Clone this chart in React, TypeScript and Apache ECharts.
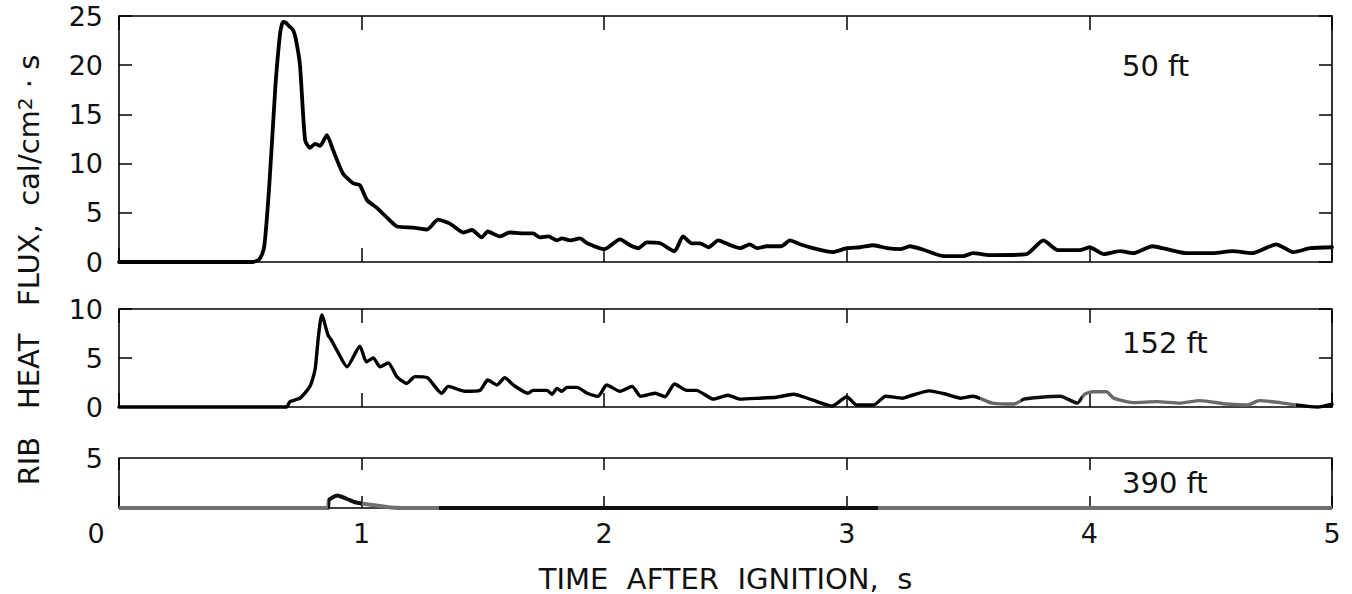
import React, { useEffect, useRef } from 'react';
import * as echarts from 'echarts';

// ---- Data (time after ignition, s ; rib heat flux, cal/cm^2·s) ----
const T_50 = [0, 0.55, 0.575, 0.59, 0.6, 0.62, 0.645, 0.655, 0.665, 0.676, 0.688, 0.7, 0.717, 0.73, 0.746, 0.767, 0.787, 0.808, 0.829, 0.857, 0.882, 0.923, 0.965, 0.993, 1.022, 1.063, 1.105, 1.146, 1.212, 1.27, 1.315, 1.364, 1.42, 1.455, 1.495, 1.52, 1.57, 1.61, 1.665, 1.707, 1.735, 1.77, 1.805, 1.826, 1.86, 1.9, 1.93, 2.0, 2.065, 2.107, 2.14, 2.176, 2.23, 2.29, 2.325, 2.36, 2.395, 2.43, 2.47, 2.52, 2.56, 2.6, 2.63, 2.67, 2.73, 2.766, 2.807, 2.877, 2.94, 3.0, 3.055, 3.11, 3.166, 3.22, 3.26, 3.31, 3.4, 3.48, 3.52, 3.59, 3.74, 3.81, 3.87, 3.96, 4.0, 4.06, 4.126, 4.18, 4.26, 4.32, 4.4, 4.51, 4.59, 4.67, 4.77, 4.84, 4.91, 5.0];
const F_50 = [0, 0, 0.2, 0.8, 1.8, 8, 18, 21, 23.4, 24.4, 24.3, 24.0, 23.6, 22.5, 20, 12.4, 11.6, 12, 11.8, 12.9, 11.4, 9, 8, 7.8, 6.3, 5.5, 4.5, 3.6, 3.5, 3.3, 4.3, 3.9, 3.0, 3.25, 2.5, 3.1, 2.6, 3.0, 2.9, 2.9, 2.5, 2.6, 2.2, 2.4, 2.2, 2.4, 1.9, 1.3, 2.3, 1.7, 1.4, 2.0, 1.9, 1.1, 2.6, 1.9, 1.9, 1.5, 2.2, 1.7, 1.4, 1.8, 1.4, 1.6, 1.6, 2.2, 1.8, 1.3, 1.0, 1.4, 1.5, 1.7, 1.4, 1.3, 1.6, 1.3, 0.6, 0.6, 0.9, 0.7, 0.8, 2.2, 1.2, 1.2, 1.5, 0.8, 1.1, 0.9, 1.6, 1.3, 0.9, 0.9, 1.1, 0.9, 1.8, 1.0, 1.4, 1.5];

const T_152 = [0, 0.69, 0.705, 0.746, 0.787, 0.808, 0.822, 0.836, 0.862, 0.876, 0.898, 0.94, 0.993, 1.02, 1.048, 1.076, 1.11, 1.145, 1.186, 1.22, 1.27, 1.33, 1.357, 1.426, 1.488, 1.52, 1.558, 1.59, 1.625, 1.686, 1.707, 1.764, 1.785, 1.805, 1.826, 1.846, 1.888, 1.93, 1.975, 2.01, 2.065, 2.115, 2.15, 2.21, 2.25, 2.29, 2.34, 2.38, 2.45, 2.51, 2.56, 2.64, 2.71, 2.78, 2.86, 2.94, 3.0, 3.04, 3.11, 3.16, 3.23, 3.27, 3.34, 3.41, 3.47, 3.52, 3.6, 3.69, 3.73, 3.8, 3.88, 3.95, 3.98, 4.015, 4.07, 4.1, 4.18, 4.28, 4.37, 4.455, 4.567, 4.65, 4.7, 4.785, 4.855, 4.94, 5.0];
const F_152 = [0, 0, 0.55, 0.9, 2.1, 3.8, 7.2, 9.4, 7.3, 6.8, 5.8, 4.1, 6.2, 4.6, 5.0, 4.1, 4.5, 3.1, 2.4, 3.1, 3.0, 1.4, 2.1, 1.6, 1.7, 2.75, 2.25, 3.0, 2.25, 1.4, 1.7, 1.7, 1.3, 1.9, 1.6, 2.0, 2.0, 1.4, 1.1, 2.25, 1.6, 2.1, 1.1, 1.4, 1.05, 2.35, 1.7, 1.7, 0.8, 1.2, 0.8, 0.9, 1.0, 1.3, 0.7, 0.1, 1.05, 0.2, 0.2, 1.1, 0.9, 1.2, 1.65, 1.3, 0.9, 1.1, 0.4, 0.3, 0.8, 1.0, 1.1, 0.4, 1.3, 1.55, 1.55, 0.9, 0.45, 0.55, 0.4, 0.65, 0.3, 0.2, 0.65, 0.45, 0.2, 0, 0.3];

const T_390 = [0, 0.86, 0.865, 0.9, 0.94, 0.97, 1.0, 1.06, 1.12, 1.2, 5.0];
const F_390 = [0, 0, 0.8, 1.25, 0.9, 0.6, 0.45, 0.25, 0.05, 0, 0];

const PANEL_LABELS = ['50 ft', '152 ft', '390 ft'];
const Y_MAX = [25, 10, 5];
const X_TITLE = 'TIME  AFTER  IGNITION,  s';
const Y_TITLE = 'RIB   HEAT   FLUX,  cal/cm{sup|2} · s';

const FONT = 'DejaVu Sans';
const INK = '#111';

export default function App() {
  const ref = useRef<HTMLDivElement>(null);

  useEffect(() => {
    const chart = echarts.init(ref.current!, null, { renderer: 'svg' });

    const H = 594;
    const gridBoxes = [
      { top: 16, bottom: H - 262 },
      { top: 309, bottom: H - 407 },
      { top: 458, bottom: H - 508 },
    ];
    const grid = gridBoxes.map((g) => ({
      left: 119,
      right: 20,
      top: g.top,
      bottom: g.bottom,
      show: true,
      borderColor: '#000',
      borderWidth: 1.6,
      backgroundColor: 'transparent',
    }));

    const xTick = [14, 14, 12];
    const yTick = [13, 13, 12];
    const xAxis: any[] = [];
    const yAxis: any[] = [];
    for (let i = 0; i < 3; i++) {
      for (const pos of ['bottom', 'top']) {
        const isMain = i === 2 && pos === 'bottom';
        xAxis.push({
          type: 'value',
          gridIndex: i,
          position: pos,
          min: 0,
          max: 5,
          interval: 1,
          axisLine: { show: false, onZero: false },
          splitLine: { show: false },
          axisTick: { show: true, inside: true, length: xTick[i], lineStyle: { color: '#000', width: 1.5 } },
          axisLabel: {
            show: isMain,
            fontFamily: FONT,
            fontSize: 27,
            color: INK,
            margin: 12,
            formatter: (v: number) => (v === 0 ? '{z|0}' : String(v)),
            rich: { z: { fontFamily: FONT, fontSize: 27, color: INK, padding: [0, 46, 0, 0] } },
          },
          name: isMain ? X_TITLE : '',
          nameLocation: 'middle',
          nameGap: 56,
          nameTextStyle: { fontFamily: FONT, fontSize: 29, color: INK },
        });
      }
      for (const pos of ['left', 'right']) {
        const isLeft = pos === 'left';
        yAxis.push({
          type: 'value',
          gridIndex: i,
          position: pos,
          min: 0,
          max: Y_MAX[i],
          interval: 5,
          axisLine: { show: false, onZero: false },
          splitLine: { show: false },
          axisTick: { show: i < 2, inside: true, length: yTick[i], lineStyle: { color: '#000', width: 1.5 } },
          axisLabel: {
            show: isLeft,
            fontFamily: FONT,
            fontSize: 27,
            color: INK,
            margin: 16,
            formatter: (v: number) => (i === 2 && v === 0 ? '' : String(v)),
          },
        });
      }
    }

    const mk = (ts: number[], fs: number[]) => ts.map((t, k) => [t, fs[k]]);

    const series: any[] = [
      {
        type: 'line', xAxisIndex: 0, yAxisIndex: 0, data: mk(T_50, F_50),
        symbol: 'none', smooth: 0.2, lineStyle: { color: '#000', width: 3.8, join: 'round', cap: 'round' }, clip: false,
      },
      {
        type: 'line', xAxisIndex: 2, yAxisIndex: 2, data: mk(T_152, F_152),
        symbol: 'none', smooth: 0.2, lineStyle: { width: 3.4, join: 'round', cap: 'round' }, clip: false,
      },
      {
        type: 'line', xAxisIndex: 4, yAxisIndex: 4, data: mk(T_390, F_390),
        symbol: 'none', smooth: 0.2, lineStyle: { width: 4, join: 'round' }, clip: false,
      },
    ];

    const gfx: any[] = [66, 343, 483].map((y, i) => ({
      type: 'text',
      x: 1122,
      y,
      style: {
        text: PANEL_LABELS[i],
        fontFamily: FONT,
        fontSize: 29,
        fill: INK,
        align: 'left',
        verticalAlign: 'middle',
      },
    }));
    gfx.push({
      type: 'text',
      x: 29,
      y: 270,
      rotation: Math.PI / 2,
      style: {
        text: Y_TITLE,
        fontFamily: FONT,
        fontSize: 29,
        fill: INK,
        align: 'center',
        verticalAlign: 'middle',
        rich: { sup: { fontFamily: FONT, fontSize: 20, fill: INK, verticalAlign: 'top' } },
      },
    });

    chart.setOption({
      animation: false,
      backgroundColor: '#fff',
      textStyle: { fontFamily: FONT },
      grid,
      xAxis,
      yAxis,
      visualMap: [
        {
          type: 'piecewise', show: false, dimension: 0, seriesIndex: 1,
          pieces: [
            { lt: 3.55, color: '#000' },
            { gte: 3.55, lt: 3.72, color: '#666' },
            { gte: 3.72, lt: 3.97, color: '#111' },
            { gte: 3.97, lt: 4.85, color: '#6a6a6a' },
            { gte: 4.85, color: '#000' },
          ],
        },
        {
          type: 'piecewise', show: false, dimension: 0, seriesIndex: 2,
          pieces: [
            { lt: 0.86, color: '#707070' },
            { gte: 0.86, lt: 1.0, color: '#111' },
            { gte: 1.0, lt: 1.32, color: '#707070' },
            { gte: 1.32, lt: 3.13, color: '#111' },
            { gte: 3.13, color: '#707070' },
          ],
        },
      ],
      series,
      graphic: gfx,
    });

    return () => chart.dispose();
  }, []);

  return (
    <div
      ref={ref}
      style={{ position: 'fixed', left: 0, top: 0, width: 1352, height: 594, background: '#fff' }}
    />
  );
}
